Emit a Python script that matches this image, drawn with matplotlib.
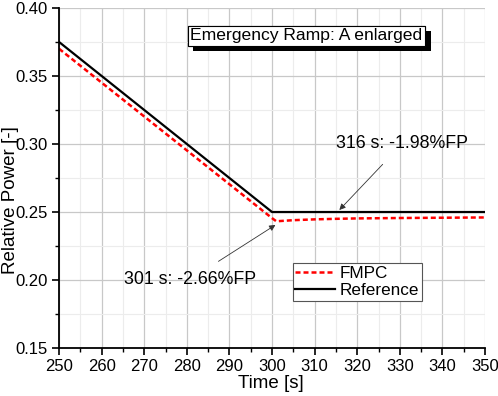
import numpy as np
import matplotlib.pyplot as plt
from matplotlib import patheffects
from matplotlib.ticker import MultipleLocator

plt.rcParams['font.family'] = ['Liberation Sans', 'DejaVu Sans']

# data
t_ref = [250, 300, 350]
p_ref = [0.375, 0.25, 0.25]
t_fmpc = [250, 300, 301, 303, 305, 310, 315, 320, 330, 340, 350]
p_fmpc = [0.370, 0.2455, 0.2432, 0.2436, 0.2440, 0.2446, 0.2450, 0.2453, 0.2456, 0.2458, 0.2460]

fig = plt.figure(figsize=(4.98, 3.96), dpi=100)
ax = fig.add_axes([0.1185, 0.121, 0.8555, 0.859])

ax.plot(t_fmpc, p_fmpc, color='red', linestyle=(0, (2, 1.2)), lw=1.8, label='FMPC')
ax.plot(t_ref, p_ref, color='black', lw=1.6, label='Reference')

ax.set_xlim(250, 350)
ax.set_ylim(0.15, 0.40)
ax.xaxis.set_major_locator(MultipleLocator(10))
ax.xaxis.set_minor_locator(MultipleLocator(5))
ax.yaxis.set_major_locator(MultipleLocator(0.05))
ax.yaxis.set_minor_locator(MultipleLocator(0.025))
ax.yaxis.set_major_formatter(plt.FormatStrFormatter('%.2f'))
ax.grid(which='major', color='#c8c8c8', lw=0.9)
ax.grid(which='minor', color='#ececec', lw=0.8)
ax.set_axisbelow(True)
for s in ['top', 'right']:
    ax.spines[s].set_visible(False)
for s in ['left', 'bottom']:
    ax.spines[s].set_linewidth(1.3)
ax.tick_params(which='major', direction='out', length=5, width=1.2, labelsize=12, pad=3)
ax.tick_params(which='minor', direction='out', length=3, width=1.0)

ax.set_xlabel('Time [s]', fontsize=13.5)
ax.set_ylabel('Relative Power [-]', fontsize=13.5)
ax.xaxis.set_label_coords(0.498, -0.103)
ax.yaxis.set_label_coords(-0.115, 0.435)
ax.xaxis.label.set_va('center')
ax.yaxis.label.set_va('center')

t = ax.text(308.1, 0.3795, 'Emergency Ramp: A enlarged', fontsize=12.6, ha='center', va='center',
            bbox=dict(boxstyle='square,pad=0.15', fc='white', ec='black', lw=0.8))
t.get_bbox_patch().set_path_effects([
    patheffects.withSimplePatchShadow(offset=(4, -4), shadow_rgbFace='black', alpha=1.0),
    patheffects.Normal()])

ax.annotate('316 s: -1.98%FP', xy=(315.8, 0.2515), xytext=(330.5, 0.30),
            fontsize=12.8, ha='center', va='center',
            arrowprops=dict(arrowstyle='-|>', color='#333333', lw=0.6, shrinkA=9, shrinkB=0,
                            mutation_scale=9))
ax.annotate('301 s: -2.66%FP', xy=(300.8, 0.2405), xytext=(280.8, 0.2005),
            fontsize=12.8, ha='center', va='center',
            arrowprops=dict(arrowstyle='-|>', color='#333333', lw=0.6, shrinkA=9, shrinkB=0,
                            mutation_scale=9))

leg = ax.legend(loc='upper left', bbox_to_anchor=(0.549, 0.25), fontsize=12.3, frameon=True,
                fancybox=False, edgecolor='#555555', framealpha=1, borderpad=0.15,
                handlelength=2.3, handletextpad=0.3, labelspacing=0.15, borderaxespad=0)
leg.get_frame().set_linewidth(0.8)

fig.savefig('out.png', dpi=100)
